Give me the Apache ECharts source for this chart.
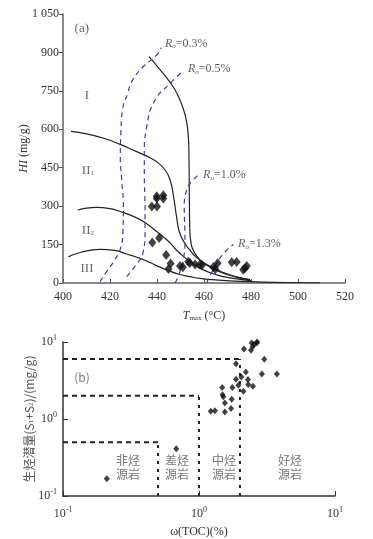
<!DOCTYPE html>
<html>
<head>
<meta charset="utf-8">
<script src="https://cdn.jsdelivr.net/npm/echarts@6/dist/echarts.min.js"></script>
<style>
html, body { margin: 0; padding: 0; background: #fff; }
#chart { width: 373px; height: 539px; }
</style>
</head>
<body>
<div id="chart"></div>
<script>
// ---- (a) HI vs Tmax ----
var tmaxTicks = [400, 420, 440, 460, 480, 500, 520];
var hiTicks = [0, 150, 300, 450, 600, 750, 900, 1050];

var samplesA = [
  [439.9, 339], [439.9, 330], [442.7, 343], [442.7, 330], [437.8, 299], [440.0, 299],
  [438.0, 158], [440.9, 176], [443.9, 109], [445.8, 76], [444.9, 55], [449.8, 66],
  [451.0, 61], [453.3, 83], [454.0, 78], [456.2, 72], [458.3, 72], [459.2, 70],
  [464.0, 62], [464.8, 54], [465.8, 77], [471.8, 81], [473.9, 82], [476.7, 52],
  [477.4, 58], [478.2, 66]
];

// kerogen type boundaries [Tmax, HI]
var curveI = [[436.6, 884], [441, 836], [445.5, 784], [448.5, 740], [450.9, 687], [452.5, 635],
  [453.3, 575], [453.6, 500], [453.7, 400], [453.8, 300], [454.0, 200], [454.6, 150],
  [455.6, 125], [457.5, 98], [460, 77], [463.5, 57], [468.2, 38], [474, 22], [479.6, 12]];
var curveII1 = [[403.4, 592], [410, 582], [418, 563], [424.3, 541], [430, 518], [437, 489],
  [441, 465], [443.5, 440], [445.5, 405], [447, 340], [448.3, 260], [449.5, 200],
  [451.5, 160], [454, 128], [457, 98], [462, 68], [468, 42], [474, 24], [479.6, 13]];
var curveII2 = [[406.2, 284], [410, 292], [414.3, 295], [420, 290], [424.3, 279], [430, 260],
  [434.2, 240], [438, 215], [442.7, 180], [445.5, 157], [448.4, 128], [451.2, 104],
  [454, 85], [458.3, 57], [465.4, 32], [472.5, 18], [480, 9]];
var curveIII = [[402.3, 102], [408, 121], [415.7, 131], [422, 127], [427.1, 113], [432.8, 96],
  [437, 80], [441, 63], [445, 48], [449, 35], [454, 25], [458.3, 18], [465, 12],
  [479.6, 5], [495, 2], [509.4, 1]];

// vitrinite reflectance lines
var ro03 = [[415.7, 5], [419, 50], [422, 90], [424.3, 130], [425.5, 200], [425.7, 297],
  [425, 400], [424.4, 490], [424.6, 580], [425.3, 674], [427.5, 740], [429.5, 790],
  [434.2, 845], [439.9, 890], [441.8, 918]];
var ro05 = [[427.1, 25], [431, 70], [434.0, 116], [434.9, 200], [434.9, 297], [434.6, 420],
  [434.6, 505], [435.6, 609], [439.1, 713], [445.5, 778], [451.3, 830]];
var ro10 = [[447.6, 0], [448.5, 15], [450, 50], [451.2, 90], [451.9, 167], [451.6, 297],
  [452.6, 362], [455, 398], [458.3, 427]];
var ro13 = [[461.1, 0], [465.4, 77], [469, 122], [472.5, 150]];

var roLabels = [
  { pos: [443.4, 935], text: '0.3%' },
  { pos: [453.2, 834], text: '0.5%' },
  { pos: [459.6, 421], text: '1.0%' },
  { pos: [474.5, 152], text: '1.3%' }
];
var typeLabels = [
  { pos: [410.2, 732], name: 'I', sub: '' },
  { pos: [410.6, 440], name: 'II', sub: '1' },
  { pos: [410.6, 206], name: 'II', sub: '2' },
  { pos: [410.2, 58], name: 'III', sub: '' }
];

// ---- (b) S1+S2 vs TOC ----
var tocTicks = [0.1, 1, 10];
var s12Ticks = [0.1, 1, 10];
var samplesB = [
  [0.21, 0.168], [0.68, 0.41],
  [2.44, 9.7], [2.54, 9.3], [2.65, 9.7], [2.68, 10], [2.48, 8.7], [2.41, 7.8], [2.14, 8.1],
  [3.02, 5.95], [1.87, 5.2], [2.21, 4.07], [2.9, 3.84], [3.74, 3.84], [2.05, 3.51],
  [1.87, 3.28], [2.29, 3.25], [1.95, 2.74], [2.30, 2.8], [2.49, 2.66], [2.12, 2.3],
  [1.76, 2.56], [1.48, 2.56], [1.49, 2.06], [1.51, 1.94], [1.74, 1.81], [1.55, 1.61],
  [1.22, 1.26], [1.31, 1.28], [1.55, 1.23], [1.72, 1.37]
];
var classLinesB = [
  [[0.1, 6], [2, 6]], [[0.1, 2], [1, 2]], [[0.1, 0.5], [0.5, 0.5]],
  [[0.5, 0.1], [0.5, 0.5]], [[1, 0.1], [1, 2]], [[2, 0.1], [2, 6]]
];
var classLabelsB = [
  { pos: [0.30, 0.235], text: '非烃\n源岩' },
  { pos: [0.69, 0.235], text: '差烃\n源岩' },
  { pos: [1.53, 0.235], text: '中烃\n源岩' },
  { pos: [4.66, 0.235], text: '好烃\n源岩' }
];

var serif = '"Liberation Serif", "DejaVu Serif", serif';
var cjk = '"Noto Sans CJK SC", sans-serif';
var txt = '#333';

function fmtThousand(v) {
  var s = String(v);
  return s.length > 3 ? s.slice(0, s.length - 3) + ' ' + s.slice(-3) : s;
}
function fmtPow(v) {
  return '{b|10}{s|' + Math.round(Math.log10(v)) + '}';
}
var powRich = {
  b: { fontFamily: serif, fontSize: 12, color: txt },
  s: { fontFamily: serif, fontSize: 8, color: txt, verticalAlign: 'top', padding: [0, 0, 8, 0] }
};

var series = [];
function curve(data, idx, color, dashed) {
  series.push({
    type: 'line', xAxisIndex: idx, yAxisIndex: idx, data: data, smooth: true,
    showSymbol: false, silent: true, z: 2,
    lineStyle: { color: color, width: 1.2, type: dashed ? [5, 4] : 'solid' }
  });
}
[curveI, curveII1, curveII2, curveIII].forEach(function (c) { curve(c, 0, '#222', false); });
[ro03, ro05, ro10, ro13].forEach(function (c) { curve(c, 0, '#3b3bb5', true); });

series.push({
  type: 'scatter', xAxisIndex: 0, yAxisIndex: 0, data: samplesA,
  symbol: 'diamond', symbolSize: [8, 10], z: 5,
  itemStyle: { color: '#111' }
});

series.push({
  type: 'scatter', xAxisIndex: 0, yAxisIndex: 0, symbolSize: 0, silent: true, z: 6,
  data: roLabels.map(function (d) { return { value: d.pos, text: d.text }; }),
  label: {
    show: true, position: 'right', distance: 0,
    formatter: function (p) { return '{i|R}{s|o}{n|=' + p.data.text + '}'; },
    rich: {
      i: { fontFamily: serif, fontStyle: 'italic', fontSize: 12, color: txt },
      s: { fontFamily: serif, fontStyle: 'italic', fontSize: 7, color: txt, verticalAlign: 'bottom', padding: [6, 0, 0, 0] },
      n: { fontFamily: serif, fontSize: 12, color: txt }
    }
  }
});

series.push({
  type: 'scatter', xAxisIndex: 0, yAxisIndex: 0, symbolSize: 0, silent: true, z: 6,
  data: typeLabels.map(function (d) { return { value: d.pos, name: d.name, sub: d.sub }; })
    .concat([{ value: [408, 993], name: '(a)', sub: '' }]),
  label: {
    show: true, position: 'inside',
    formatter: function (p) { return '{n|' + p.data.name + '}' + (p.data.sub ? '{s|' + p.data.sub + '}' : ''); },
    rich: {
      n: { fontFamily: serif, fontSize: 13, color: '#444' },
      s: { fontFamily: serif, fontSize: 7, color: '#444', verticalAlign: 'bottom', padding: [6, 0, 0, 0] }
    }
  }
});

classLinesB.forEach(function (l, i) {
  series.push({
    type: 'line', xAxisIndex: 1, yAxisIndex: 1, data: l, showSymbol: false, silent: true,
    lineStyle: { color: '#222', width: 2, type: i < 3 ? [5, 4] : [3, 5] }
  });
});
series.push({
  type: 'scatter', xAxisIndex: 1, yAxisIndex: 1, data: samplesB,
  symbol: 'diamond', symbolSize: [6, 7], z: 5, itemStyle: { color: '#111' }
});
series.push({
  type: 'scatter', xAxisIndex: 1, yAxisIndex: 1, symbolSize: 0, silent: true, z: 6,
  data: classLabelsB.map(function (d) { return { value: d.pos, name: d.text }; })
    .concat([{ value: [0.138, 3.47], name: '(b)' }]),
  label: {
    show: true, position: 'inside', lineHeight: 14,
    formatter: function (p) { return p.data.name; },
    fontFamily: cjk + ', ' + serif, fontSize: 12, color: '#555'
  }
});

var chart = echarts.init(document.getElementById('chart'));
chart.setOption({
  animation: false,
  grid: [
    { left: 63, top: 14, right: 28, bottom: 256 },
    { left: 63, top: 342, right: 38, bottom: 42 }
  ],
  xAxis: [
    {
      gridIndex: 0, type: 'value', min: tmaxTicks[0], max: tmaxTicks[tmaxTicks.length - 1], interval: 20,
      splitLine: { show: false },
      axisLine: { lineStyle: { color: '#8a8a8a', width: 2 } },
      axisTick: { inside: true, length: 4, lineStyle: { color: '#555' } },
      axisLabel: { fontFamily: serif, fontSize: 12, color: txt, margin: 8 },
      name: '{i|T}{s|max}{n| (°C)}', nameLocation: 'middle', nameGap: 26, nameMoveOverlap: false,
      nameTextStyle: {
        rich: {
          i: { fontFamily: serif, fontStyle: 'italic', fontSize: 12, color: txt },
          s: { fontFamily: serif, fontSize: 7, color: txt, verticalAlign: 'bottom', padding: [6, 0, 0, 0] },
          n: { fontFamily: serif, fontSize: 12, color: txt }
        }
      }
    },
    {
      gridIndex: 1, type: 'log', logBase: 10, min: tocTicks[0], max: tocTicks[tocTicks.length - 1],
      splitLine: { show: false }, minorTick: { show: false },
      axisLine: { lineStyle: { color: '#333', width: 1.5 } },
      axisTick: { inside: true, length: 5, lineStyle: { color: '#333' } },
      axisLabel: { formatter: fmtPow, rich: powRich, margin: 10 },
      name: 'ω(TOC)(%)', nameLocation: 'middle', nameGap: 30, nameMoveOverlap: false,
      nameTextStyle: { fontFamily: serif, fontSize: 12, color: txt }
    }
  ],
  yAxis: [
    {
      gridIndex: 0, type: 'value', min: hiTicks[0], max: hiTicks[hiTicks.length - 1], interval: 150,
      splitLine: { show: false },
      axisLine: { show: true, lineStyle: { color: '#8a8a8a', width: 2 } },
      axisTick: { show: true, inside: false, length: 4, lineStyle: { color: '#555' } },
      axisLabel: { fontFamily: serif, fontSize: 12, color: txt, margin: 4, formatter: fmtThousand },
      name: '{i|HI}{n| (mg/g)}', nameLocation: 'middle', nameGap: 33, nameMoveOverlap: false,
      nameTextStyle: {
        rich: {
          i: { fontFamily: serif, fontStyle: 'italic', fontSize: 12, color: txt },
          n: { fontFamily: serif, fontSize: 12, color: txt }
        }
      }
    },
    {
      gridIndex: 1, type: 'log', logBase: 10, min: s12Ticks[0], max: s12Ticks[s12Ticks.length - 1],
      splitLine: { show: false }, minorTick: { show: false },
      axisLine: { show: true, lineStyle: { color: '#333', width: 1.5 } },
      axisTick: { show: true, inside: true, length: 5, lineStyle: { color: '#333' } },
      axisLabel: { formatter: fmtPow, rich: powRich, margin: 6 },
      name: '{c|生烃潜量(S}{s|1}{c|+S}{s|2}{c|)/(mg/g)}', nameLocation: 'middle', nameGap: 28, nameMoveOverlap: false,
      nameTextStyle: {
        rich: {
          c: { fontFamily: cjk, fontSize: 12, color: '#555' },
          s: { fontFamily: serif, fontSize: 7, color: '#555', verticalAlign: 'bottom', padding: [5, 0, 0, 0] }
        }
      }
    }
  ],
  series: series
});
</script>
</body>
</html>
